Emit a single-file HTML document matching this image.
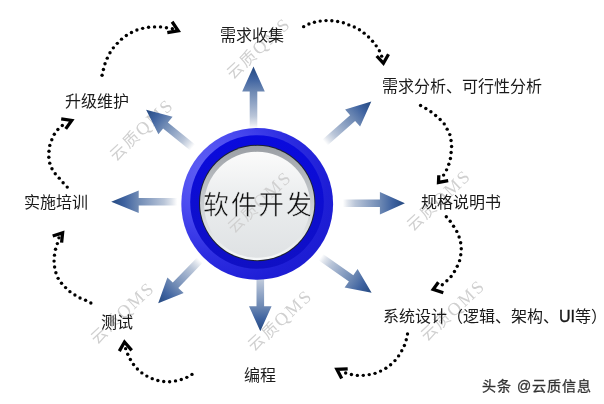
<!DOCTYPE html>
<html lang="zh-CN"><head><meta charset="utf-8"><style>
html,body{margin:0;padding:0;background:#fff;width:604px;height:404px;overflow:hidden}
svg{display:block;will-change:transform}
text{font-family:"Liberation Serif",serif}
.wm{font-family:"Liberation Serif",serif}
</style></head><body>
<svg width="604" height="404" viewBox="0 0 604 404">
<defs>
<linearGradient id="a0" gradientUnits="userSpaceOnUse" x1="253.5" y1="66.6" x2="253.5" y2="128.6"><stop offset="0" stop-color="#24487f"/><stop offset="0.2" stop-color="#3f63a0"/><stop offset="0.41" stop-color="#6f8ab4"/><stop offset="0.6" stop-color="#92a6c6"/><stop offset="0.8" stop-color="#b9c5d8"/><stop offset="0.92" stop-color="#dfe4ec"/><stop offset="1" stop-color="#ffffff"/></linearGradient><linearGradient id="a1" gradientUnits="userSpaceOnUse" x1="371.3" y1="101.5" x2="324.9" y2="142.6"><stop offset="0" stop-color="#24487f"/><stop offset="0.2" stop-color="#3f63a0"/><stop offset="0.41" stop-color="#6f8ab4"/><stop offset="0.6" stop-color="#92a6c6"/><stop offset="0.8" stop-color="#b9c5d8"/><stop offset="0.92" stop-color="#dfe4ec"/><stop offset="1" stop-color="#ffffff"/></linearGradient><linearGradient id="a2" gradientUnits="userSpaceOnUse" x1="404.9" y1="203.3" x2="342.9" y2="203.3"><stop offset="0" stop-color="#24487f"/><stop offset="0.2" stop-color="#3f63a0"/><stop offset="0.41" stop-color="#6f8ab4"/><stop offset="0.6" stop-color="#92a6c6"/><stop offset="0.8" stop-color="#b9c5d8"/><stop offset="0.92" stop-color="#dfe4ec"/><stop offset="1" stop-color="#ffffff"/></linearGradient><linearGradient id="a3" gradientUnits="userSpaceOnUse" x1="371.6" y1="292.7" x2="320.8" y2="257.1"><stop offset="0" stop-color="#24487f"/><stop offset="0.2" stop-color="#3f63a0"/><stop offset="0.41" stop-color="#6f8ab4"/><stop offset="0.6" stop-color="#92a6c6"/><stop offset="0.8" stop-color="#b9c5d8"/><stop offset="0.92" stop-color="#dfe4ec"/><stop offset="1" stop-color="#ffffff"/></linearGradient><linearGradient id="a4" gradientUnits="userSpaceOnUse" x1="260.3" y1="331.2" x2="260.3" y2="269.2"><stop offset="0" stop-color="#24487f"/><stop offset="0.2" stop-color="#3f63a0"/><stop offset="0.41" stop-color="#6f8ab4"/><stop offset="0.6" stop-color="#92a6c6"/><stop offset="0.8" stop-color="#b9c5d8"/><stop offset="0.92" stop-color="#dfe4ec"/><stop offset="1" stop-color="#ffffff"/></linearGradient><linearGradient id="a5" gradientUnits="userSpaceOnUse" x1="158.2" y1="303.2" x2="199.9" y2="260.0"><stop offset="0" stop-color="#24487f"/><stop offset="0.2" stop-color="#3f63a0"/><stop offset="0.41" stop-color="#6f8ab4"/><stop offset="0.6" stop-color="#92a6c6"/><stop offset="0.8" stop-color="#b9c5d8"/><stop offset="0.92" stop-color="#dfe4ec"/><stop offset="1" stop-color="#ffffff"/></linearGradient><linearGradient id="a6" gradientUnits="userSpaceOnUse" x1="111.2" y1="201.8" x2="177.2" y2="201.8"><stop offset="0" stop-color="#24487f"/><stop offset="0.2" stop-color="#3f63a0"/><stop offset="0.41" stop-color="#6f8ab4"/><stop offset="0.6" stop-color="#92a6c6"/><stop offset="0.8" stop-color="#b9c5d8"/><stop offset="0.92" stop-color="#dfe4ec"/><stop offset="1" stop-color="#ffffff"/></linearGradient><linearGradient id="a7" gradientUnits="userSpaceOnUse" x1="146.1" y1="109.7" x2="192.7" y2="147.5"><stop offset="0" stop-color="#24487f"/><stop offset="0.2" stop-color="#3f63a0"/><stop offset="0.41" stop-color="#6f8ab4"/><stop offset="0.6" stop-color="#92a6c6"/><stop offset="0.8" stop-color="#b9c5d8"/><stop offset="0.92" stop-color="#dfe4ec"/><stop offset="1" stop-color="#ffffff"/></linearGradient>
<radialGradient id="ringO" cx="0.2" cy="0.3" r="0.9" fx="0.2" fy="0.3"><stop offset="0" stop-color="#6262f4"/><stop offset="0.3" stop-color="#4c4cf0"/><stop offset="0.47" stop-color="#3a3ae8"/><stop offset="0.61" stop-color="#2c2ce0"/><stop offset="0.85" stop-color="#1e1ed6"/><stop offset="1" stop-color="#1c1cd0"/></radialGradient>
<linearGradient id="ringI" x1="0" y1="0" x2="0" y2="1"><stop offset="0" stop-color="#0a0ade"/><stop offset="1" stop-color="#1010c4"/></linearGradient>
<linearGradient id="rim" x1="0" y1="0" x2="0" y2="1"><stop offset="0" stop-color="#9a9ea4"/><stop offset="0.35" stop-color="#bcc0c4"/><stop offset="0.6" stop-color="#d2d5d7"/><stop offset="0.85" stop-color="#e8ebec"/><stop offset="1" stop-color="#f6f8f8"/></linearGradient>
<linearGradient id="face" x1="0" y1="0" x2="0" y2="1"><stop offset="0" stop-color="#fbfbfb"/><stop offset="0.4" stop-color="#eceeef"/><stop offset="1" stop-color="#dfe2e4"/></linearGradient>
<linearGradient id="faceU" gradientUnits="userSpaceOnUse" x1="0" y1="151.8" x2="0" y2="257.8"><stop offset="0" stop-color="#fbfbfb"/><stop offset="0.4" stop-color="#eceeef"/><stop offset="1" stop-color="#dfe2e4"/></linearGradient>
</defs>
<text x="115.8" y="161.6" transform="rotate(-43 115.8 161.6)" font-size="16" letter-spacing="2" fill="#d0d0d0" class="wm">云质<tspan font-size="18">QMS</tspan></text><text x="232.8" y="80.4" transform="rotate(-43 232.8 80.4)" font-size="16" letter-spacing="2" fill="#d0d0d0" class="wm">云质<tspan font-size="18">QMS</tspan></text><text x="413.1" y="232.4" transform="rotate(-43 413.1 232.4)" font-size="16" letter-spacing="2" fill="#d0d0d0" class="wm">云质<tspan font-size="18">QMS</tspan></text><text x="96.8" y="344.5" transform="rotate(-43 96.8 344.5)" font-size="16" letter-spacing="2" fill="#d0d0d0" class="wm">云质<tspan font-size="18">QMS</tspan></text><text x="254.5" y="352.3" transform="rotate(-43 254.5 352.3)" font-size="16" letter-spacing="2" fill="#d0d0d0" class="wm">云质<tspan font-size="18">QMS</tspan></text><text x="427.2" y="342.3" transform="rotate(-43 427.2 342.3)" font-size="16" letter-spacing="2" fill="#d0d0d0" class="wm">云质<tspan font-size="18">QMS</tspan></text>
<polygon points="253.5,66.6 264.8,91.6 257.3,91.6 257.3,128.6 249.7,128.6 249.7,91.6 242.2,91.6" fill="url(#a0)"/><polygon points="371.3,101.5 360.1,126.5 355.1,120.9 327.4,145.4 322.3,139.7 350.1,115.2 345.1,109.6" fill="url(#a1)"/><polygon points="404.9,203.3 379.9,214.6 379.9,207.1 342.9,207.1 342.9,199.5 379.9,199.5 379.9,192.0" fill="url(#a2)"/><polygon points="371.6,292.7 344.6,287.6 348.9,281.5 318.6,260.3 323.0,254.0 353.3,275.2 357.6,269.1" fill="url(#a3)"/><polygon points="260.3,331.2 249.0,306.2 256.5,306.2 256.5,269.2 264.1,269.2 264.1,306.2 271.6,306.2" fill="url(#a4)"/><polygon points="158.2,303.2 167.4,277.4 172.8,282.6 197.1,257.4 202.6,262.7 178.3,287.9 183.7,293.1" fill="url(#a5)"/><polygon points="111.2,201.8 138.7,190.5 138.7,198.0 177.2,198.0 177.2,205.6 138.7,205.6 138.7,213.1" fill="url(#a6)"/><polygon points="146.1,109.7 172.6,116.7 167.9,122.5 195.1,144.5 190.3,150.4 163.1,128.4 158.4,134.2" fill="url(#a7)"/>
<circle cx="257.2" cy="203.9" r="75.9" fill="url(#ringO)"/>
<circle cx="257" cy="202" r="66.8" fill="url(#ringI)"/>
<circle cx="257.2" cy="203" r="58.2" fill="#1c2230"/>
<circle cx="257.2" cy="203" r="57.2" fill="url(#rim)"/>
<circle cx="257.2" cy="204.8" r="53" fill="url(#face)"/>
<text x="233.8" y="233.9" transform="rotate(-43 233.8 233.9)" font-size="16" letter-spacing="2" fill="#d0d0d0" class="wm">云质<tspan font-size="18">QMS</tspan></text>
<text x="203" y="214.3" font-size="26" letter-spacing="1.7" fill="#111" stroke="url(#faceU)" stroke-width="0.45" style="font-family:'Liberation Sans',sans-serif">软件开发</text>
<g fill="#000"><circle cx="102.06" cy="75.31" r="1.7"/><circle cx="103.42" cy="69.47" r="1.7"/><circle cx="105.01" cy="63.69" r="1.7"/><circle cx="107.28" cy="58.15" r="1.7"/><circle cx="109.99" cy="52.81" r="1.7"/><circle cx="113.34" cy="47.85" r="1.7"/><circle cx="117.31" cy="43.36" r="1.7"/><circle cx="121.54" cy="39.13" r="1.7"/><circle cx="126.32" cy="35.51" r="1.7"/><circle cx="131.48" cy="32.48" r="1.7"/><circle cx="136.92" cy="29.97" r="1.7"/><circle cx="142.68" cy="28.33" r="1.7"/><circle cx="148.57" cy="27.24" r="1.7"/><circle cx="154.55" cy="26.88" r="1.7"/><circle cx="160.54" cy="26.89" r="1.7"/><circle cx="166.45" cy="27.81" r="1.7"/><circle cx="172.37" cy="28.74" r="1.7"/><polyline points="172.1,21.8 178.2,30.7 167.3,32.6" fill="none" stroke="#000" stroke-width="3.3" stroke-linejoin="miter" stroke-miterlimit="20"/><circle cx="303.67" cy="26.66" r="1.7"/><circle cx="308.90" cy="24.07" r="1.7"/><circle cx="314.45" cy="22.23" r="1.7"/><circle cx="320.19" cy="21.09" r="1.7"/><circle cx="326.01" cy="20.62" r="1.7"/><circle cx="331.85" cy="20.82" r="1.7"/><circle cx="337.66" cy="21.54" r="1.7"/><circle cx="343.37" cy="22.78" r="1.7"/><circle cx="348.81" cy="24.90" r="1.7"/><circle cx="354.29" cy="26.94" r="1.7"/><circle cx="359.44" cy="29.70" r="1.7"/><circle cx="364.15" cy="33.16" r="1.7"/><circle cx="368.57" cy="36.99" r="1.7"/><circle cx="372.58" cy="41.25" r="1.7"/><circle cx="376.19" cy="45.84" r="1.7"/><circle cx="379.37" cy="50.75" r="1.7"/><circle cx="381.66" cy="56.13" r="1.7"/><polyline points="376.7,56.0 383.4,63.2 388.5,54.3" fill="none" stroke="#000" stroke-width="3.3" stroke-linejoin="miter" stroke-miterlimit="20"/><circle cx="420.57" cy="105.57" r="1.7"/><circle cx="425.82" cy="108.53" r="1.7"/><circle cx="430.91" cy="111.75" r="1.7"/><circle cx="435.63" cy="115.50" r="1.7"/><circle cx="440.14" cy="119.50" r="1.7"/><circle cx="444.24" cy="123.91" r="1.7"/><circle cx="447.17" cy="129.17" r="1.7"/><circle cx="449.81" cy="134.58" r="1.7"/><circle cx="451.06" cy="140.47" r="1.7"/><circle cx="451.58" cy="146.47" r="1.7"/><circle cx="451.12" cy="152.47" r="1.7"/><circle cx="450.40" cy="158.46" r="1.7"/><circle cx="448.77" cy="164.26" r="1.7"/><circle cx="446.56" cy="169.86" r="1.7"/><circle cx="443.59" cy="175.10" r="1.7"/><polyline points="438.8,175.3 438.5,182.4 448.2,180.7" fill="none" stroke="#000" stroke-width="3.3" stroke-linejoin="miter" stroke-miterlimit="20"/><circle cx="446.32" cy="216.69" r="1.7"/><circle cx="450.22" cy="221.29" r="1.7"/><circle cx="453.60" cy="226.27" r="1.7"/><circle cx="456.79" cy="231.38" r="1.7"/><circle cx="459.10" cy="236.94" r="1.7"/><circle cx="460.67" cy="242.75" r="1.7"/><circle cx="461.27" cy="248.74" r="1.7"/><circle cx="460.75" cy="254.73" r="1.7"/><circle cx="459.57" cy="260.63" r="1.7"/><circle cx="457.27" cy="266.20" r="1.7"/><circle cx="454.46" cy="271.53" r="1.7"/><circle cx="451.10" cy="276.52" r="1.7"/><circle cx="446.89" cy="280.82" r="1.7"/><circle cx="442.31" cy="284.73" r="1.7"/><polyline points="438.4,282.2 433.2,289.3 443.3,292.7" fill="none" stroke="#000" stroke-width="3.3" stroke-linejoin="miter" stroke-miterlimit="20"/><circle cx="407.50" cy="333.94" r="1.7"/><circle cx="406.26" cy="339.78" r="1.7"/><circle cx="404.38" cy="345.45" r="1.7"/><circle cx="401.74" cy="350.80" r="1.7"/><circle cx="398.62" cy="355.90" r="1.7"/><circle cx="394.97" cy="360.61" r="1.7"/><circle cx="390.63" cy="364.71" r="1.7"/><circle cx="385.84" cy="368.27" r="1.7"/><circle cx="380.58" cy="371.10" r="1.7"/><circle cx="375.05" cy="373.33" r="1.7"/><circle cx="369.22" cy="374.60" r="1.7"/><circle cx="363.29" cy="375.36" r="1.7"/><circle cx="357.33" cy="375.39" r="1.7"/><circle cx="351.42" cy="374.50" r="1.7"/><circle cx="345.65" cy="372.99" r="1.7"/><polyline points="347.7,368.8 336.9,369.3 341.7,378.5" fill="none" stroke="#000" stroke-width="3.3" stroke-linejoin="miter" stroke-miterlimit="20"/><circle cx="191.97" cy="374.41" r="1.7"/><circle cx="186.82" cy="377.36" r="1.7"/><circle cx="181.27" cy="379.47" r="1.7"/><circle cx="175.52" cy="380.92" r="1.7"/><circle cx="169.64" cy="381.70" r="1.7"/><circle cx="163.72" cy="381.46" r="1.7"/><circle cx="157.86" cy="380.49" r="1.7"/><circle cx="152.23" cy="378.64" r="1.7"/><circle cx="146.87" cy="376.10" r="1.7"/><circle cx="141.87" cy="372.90" r="1.7"/><circle cx="137.39" cy="369.02" r="1.7"/><circle cx="133.51" cy="364.54" r="1.7"/><circle cx="130.36" cy="359.51" r="1.7"/><circle cx="127.73" cy="354.19" r="1.7"/><circle cx="125.65" cy="348.63" r="1.7"/><polyline points="119.3,351.1 124.5,342.0 131.7,350.4" fill="none" stroke="#000" stroke-width="3.3" stroke-linejoin="miter" stroke-miterlimit="20"/><circle cx="90.86" cy="302.98" r="1.7"/><circle cx="85.57" cy="300.23" r="1.7"/><circle cx="80.03" cy="298.01" r="1.7"/><circle cx="74.92" cy="294.95" r="1.7"/><circle cx="69.94" cy="291.67" r="1.7"/><circle cx="65.59" cy="287.60" r="1.7"/><circle cx="61.52" cy="283.25" r="1.7"/><circle cx="58.15" cy="278.34" r="1.7"/><circle cx="55.92" cy="272.82" r="1.7"/><circle cx="54.59" cy="267.01" r="1.7"/><circle cx="54.06" cy="261.08" r="1.7"/><circle cx="54.48" cy="255.14" r="1.7"/><circle cx="55.55" cy="249.27" r="1.7"/><circle cx="57.35" cy="243.59" r="1.7"/><circle cx="58.96" cy="237.85" r="1.7"/><polyline points="52.7,236.0 62.6,232.9 61.6,242.7" fill="none" stroke="#000" stroke-width="3.3" stroke-linejoin="miter" stroke-miterlimit="20"/><circle cx="67.21" cy="187.09" r="1.7"/><circle cx="63.12" cy="182.73" r="1.7"/><circle cx="59.24" cy="178.17" r="1.7"/><circle cx="55.27" cy="173.70" r="1.7"/><circle cx="51.98" cy="168.72" r="1.7"/><circle cx="49.76" cy="163.17" r="1.7"/><circle cx="48.84" cy="157.28" r="1.7"/><circle cx="48.99" cy="151.30" r="1.7"/><circle cx="49.80" cy="145.38" r="1.7"/><circle cx="51.80" cy="139.75" r="1.7"/><circle cx="54.31" cy="134.32" r="1.7"/><circle cx="57.88" cy="129.54" r="1.7"/><circle cx="62.31" cy="125.52" r="1.7"/><polyline points="61.2,118.8 71.7,120.4 65.7,128.9" fill="none" stroke="#000" stroke-width="3.3" stroke-linejoin="miter" stroke-miterlimit="20"/></g>
<text x="219.7" y="41" font-size="16" fill="#1a1a1a">需求收集</text><text x="381.5" y="92.2" font-size="16" fill="#1a1a1a">需求分析、可行性分析</text><text x="64.6" y="106.7" font-size="16" fill="#1a1a1a">升级维护</text><text x="23.9" y="207.8" font-size="16" fill="#1a1a1a">实施培训</text><text x="421.3" y="207.7" font-size="16" fill="#1a1a1a">规格说明书</text><text x="383" y="321.7" font-size="16" fill="#1a1a1a">系统设计（逻辑、架构、<tspan stroke="#1a1a1a" stroke-width="0.35" style="font-family:'Liberation Sans',sans-serif">UI</tspan>等）</text><text x="243.9" y="381.3" font-size="16" fill="#1a1a1a">编程</text><text x="100.9" y="328.3" font-size="16" fill="#1a1a1a">测试</text>
<text x="482.2" y="390.6" font-size="14" letter-spacing="1" fill="#333" stroke="#333" stroke-width="0.3" style="font-family:'Liberation Sans',sans-serif">头条 @云质信息</text>
</svg>
</body></html>
